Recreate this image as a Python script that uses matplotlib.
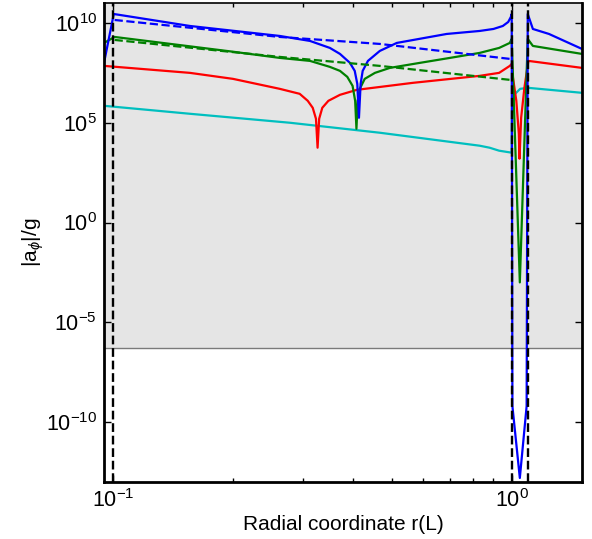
import matplotlib
matplotlib.use('Agg')
import matplotlib.pyplot as plt
from matplotlib.ticker import FixedLocator, NullLocator, LogFormatterSciNotation
import numpy as np

plt.rcParams['font.family'] = ['Liberation Sans', 'DejaVu Sans']
plt.rcParams['mathtext.fontset'] = 'custom'
plt.rcParams['mathtext.rm'] = 'Liberation Sans'
plt.rcParams['mathtext.it'] = 'Liberation Sans:italic'

colors = {
    'blue': '#0000ff',
    'green': '#008000',
    'red': '#ff0000',
    'cyan': '#00bfbf',
    'shade': '#e5e5e5',
}

# 数据 (x, log10|a/g|) 从图上读取
blue_x = [0.095, 0.1005, 0.156, 0.262, 0.312, 0.350, 0.371, 0.393, 0.404, 0.410, 0.414,
          0.418, 0.423, 0.436, 0.467, 0.515, 0.687, 0.831, 0.90, 0.95, 0.98, 0.995, 1.0,
          1.004, 1.048, 1.090, 1.097, 1.13, 1.24, 1.5]
blue_lg = [8.0, 10.45, 9.85, 9.35, 9.1, 8.75, 8.45, 8.0, 7.6, 6.95, 5.25,
           6.95, 7.6, 8.1, 8.6, 9.0, 9.45, 9.6, 9.7, 9.85, 10.05, 10.3, 10.45,
           -9.2, -12.8, -9.2, 10.45, 9.7, 9.45, 8.7]

blue_dash_x = [0.101, 0.262, 0.467, 0.99]
blue_dash_lg = [10.15, 9.3, 8.95, 8.2]

green_x = [0.095, 0.101, 0.2, 0.262, 0.312, 0.350, 0.371, 0.387, 0.399, 0.405, 0.408,
           0.411, 0.416, 0.428, 0.454, 0.495, 0.588, 0.70, 0.831, 0.93, 0.989, 1.0,
           1.048, 1.097, 1.13, 1.5]
green_lg = [9.0, 9.3, 8.56, 8.25, 8.1, 7.8, 7.6, 7.3, 6.85, 6.1, 4.7,
            6.1, 6.7, 7.2, 7.5, 7.75, 8.0, 8.25, 8.5, 8.75, 9.0, 9.2,
            -3.0, 9.2, 8.85, 8.45]

green_dash_x = [0.101, 0.262, 0.467, 0.99]
green_dash_lg = [9.15, 8.3, 7.85, 7.15]

red_x = [0.095, 0.156, 0.2, 0.262, 0.294, 0.308, 0.317, 0.323, 0.326, 0.329, 0.335, 0.347,
         0.371, 0.409, 0.565, 0.831, 0.93, 0.989, 1.0,
         1.0075, 1.027, 1.042, 1.046, 1.056, 1.076, 1.101, 1.5]
red_lg = [7.85, 7.5, 7.2, 6.7, 6.45, 6.1, 5.75, 5.2, 3.75, 5.2, 5.75, 6.1,
          6.4, 6.65, 7.0, 7.35, 7.5, 7.85, 7.95,
          7.25, 6.1, 4.45, 3.2, 5.25, 6.75, 8.1, 7.75]

cyan_x = [0.095, 0.156, 0.278, 0.467, 0.831, 0.88, 0.93, 1.0, 1.002, 1.02, 1.05, 1.1, 1.5]
cyan_lg = [5.85, 5.45, 5.0, 4.5, 3.85, 3.75, 3.6, 3.5, 5.75, 6.45, 6.7, 6.75, 6.5]

vlines_x = [0.1, 1.0, 1.097]
shade_low = 5e-7

yticks = [1e-10, 1e-5, 1e0, 1e5, 1e10]


def main():
    fig = plt.figure(figsize=(5.92, 5.39), dpi=100)
    ax = fig.add_axes([0.1757, 0.1058, 0.8073, 0.8886])

    ax.set_xscale('log')
    ax.set_yscale('log')
    ax.set_xlim(0.095, 1.5)
    ax.set_ylim(1e-13, 1e11)

    ax.axhspan(shade_low, 1e11, color=colors['shade'], lw=0, zorder=0)
    ax.axhline(shade_low, color='#7a7a7a', lw=1.0, zorder=1)

    lw = 1.6
    ax.plot(blue_x, 10.0 ** np.array(blue_lg), color=colors['blue'], lw=lw, zorder=3)
    ax.plot(blue_dash_x, 10.0 ** np.array(blue_dash_lg), '--', color=colors['blue'], lw=lw, zorder=3)
    ax.plot(green_x, 10.0 ** np.array(green_lg), color=colors['green'], lw=lw, zorder=2.9)
    ax.plot(green_dash_x, 10.0 ** np.array(green_dash_lg), '--', color=colors['green'], lw=lw, zorder=3)
    ax.plot(red_x, 10.0 ** np.array(red_lg), color=colors['red'], lw=lw, zorder=2.8)
    ax.plot(cyan_x, 10.0 ** np.array(cyan_lg), color=colors['cyan'], lw=lw, zorder=2.7)

    for xv in vlines_x:
        ax.axvline(xv, color='black', ls='--', lw=1.7, zorder=4)

    ax.yaxis.set_major_locator(FixedLocator(yticks))
    ax.yaxis.set_major_formatter(LogFormatterSciNotation())
    ax.yaxis.set_minor_locator(NullLocator())

    ax.tick_params(which='both', direction='in', top=True, right=True, labelsize=15.5)
    ax.tick_params(which='major', length=5, width=1, pad=5)
    ax.tick_params(which='minor', length=3, width=1)

    for side in ['left', 'bottom', 'right']:
        ax.spines[side].set_linewidth(2)
    ax.spines['top'].set_linewidth(1.2)
    for s in ax.spines.values():
        s.set_zorder(5)

    ax.set_xlabel('Radial coordinate r(L)', fontsize=15, labelpad=2)
    ax.set_ylabel(r'|a$_{\phi}$|/g', fontsize=15, labelpad=0)

    fig.savefig('out.png', dpi=100, facecolor='white')
    plt.close(fig)


if __name__ == "__main__":
    main()
